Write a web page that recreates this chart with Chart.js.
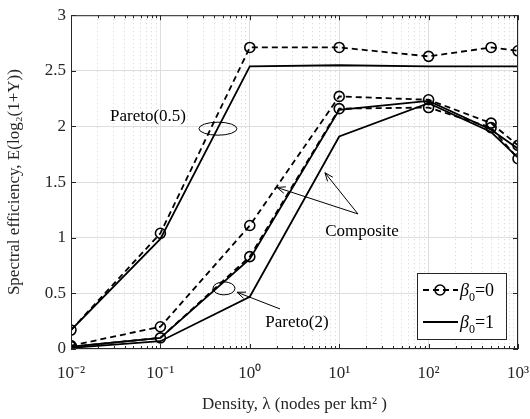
<!DOCTYPE html>
<html><head><meta charset="utf-8">
<script src="https://cdn.jsdelivr.net/npm/chart.js@4/dist/chart.umd.min.js"></script>
<style>html,body{margin:0;padding:0;background:#fff}#wrap{width:530px;height:419px;position:relative}</style>
</head><body><div id="wrap"><canvas id="c"></canvas></div>
<script>
// ---- data ----
const densities    = [0.01, 0.1, 1, 10, 100, 500, 1000];
const pareto05_b0  = [0.17, 1.04, 2.71, 2.71, 2.63, 2.71, 2.68];
const pareto05_b1  = [0.17, 0.99, 2.54, 2.55, 2.54, 2.54, 2.54];
const composite_b0 = [0.03, 0.20, 1.11, 2.27, 2.24, 2.03, 1.83];
const composite_b1 = [0.01, 0.07, 0.47, 1.91, 2.21, 1.95, 1.72];
const pareto2_b0   = [0.02, 0.10, 0.83, 2.16, 2.17, 1.99, 1.71];
const pareto2_b1   = [0.02, 0.10, 0.81, 2.15, 2.23, 1.97, 1.80];
const xTickValues  = [0.01, 0.1, 1, 10, 100, 1000];
const xTickLabels  = ['10⁻²', '10⁻¹', '10⁰', '10¹', '10²', '10³'];
const yTickValues  = [0, 0.5, 1, 1.5, 2, 2.5, 3];
const yTickLabels  = ['0', '0.5', '1', '1.5', '2', '2.5', '3'];
const legendLabels = ['0', '1'];   // beta_0 values
const annotations = [
  {type:'text', text:'Pareto(0.5)', x:0.0726, y:2.085},
  {type:'ellipse', x:0.44, y:1.98, rx:19, ry:6.5},
  {type:'text', text:'Composite', x:18.0, y:1.06},
  {type:'arrow', x0:16.2, y0:1.214, x1:2.01, y1:1.452},
  {type:'arrow', x0:16.2, y0:1.214, x1:6.93, y1:1.584},
  {type:'text', text:'Pareto(2)', x:3.37, y:0.24},
  {type:'ellipse', x:0.514, y:0.545, rx:11, ry:6.5},
  {type:'arrow', x0:2.18, y0:0.36, x1:0.72, y1:0.51}
];

const FONT = "'Liberation Serif', 'Times New Roman', serif";
const pts = arr => arr.map((v, i) => ({x: densities[i], y: v}));
function ds(label, arr, dashed) {
  return {
    label, data: pts(arr),
    borderColor: '#000', borderWidth: 1.8,
    borderDash: dashed ? [6, 4] : [],
    pointRadius: dashed ? 5 : 0,
    pointHoverRadius: dashed ? 5 : 0,
    pointBorderWidth: 1.6,
    pointBorderColor: '#000',
    pointBackgroundColor: 'rgba(0,0,0,0)',
    tension: 0, fill: false
  };
}

const isMajor = v => Math.abs(Math.log10(v) - Math.round(Math.log10(v))) < 1e-6;

const decor = {
  id: 'decor',
  afterDraw(chart) {
    const {ctx, chartArea: a, scales: {x, y}} = chart;
    ctx.save();
    // frame
    ctx.strokeStyle = '#262626'; ctx.lineWidth = 1; ctx.setLineDash([]);
    ctx.strokeRect(a.left + 0.5, a.top + 0.5, a.right - a.left - 1, a.bottom - a.top - 1);
    // inward ticks
    ctx.beginPath();
    x.ticks.forEach(t => {
      const p = Math.round(x.getPixelForValue(t.value)) + 0.5;
      const len = isMajor(t.value) ? 5 : 3;
      ctx.moveTo(p, a.bottom); ctx.lineTo(p, a.bottom - len);
      ctx.moveTo(p, a.top); ctx.lineTo(p, a.top + len);
    });
    y.ticks.forEach(t => {
      const p = Math.round(y.getPixelForValue(t.value)) + 0.5;
      ctx.moveTo(a.left, p); ctx.lineTo(a.left + 5, p);
      ctx.moveTo(a.right, p); ctx.lineTo(a.right - 5, p);
    });
    ctx.stroke();

    // annotations
    ctx.strokeStyle = '#000'; ctx.fillStyle = '#000'; ctx.lineWidth = 1;
    annotations.forEach(an => {
      if (an.type === 'text') {
        ctx.font = '17px ' + FONT; ctx.textAlign = 'center'; ctx.textBaseline = 'middle';
        ctx.fillText(an.text, x.getPixelForValue(an.x), y.getPixelForValue(an.y));
      } else if (an.type === 'ellipse') {
        ctx.beginPath();
        ctx.ellipse(x.getPixelForValue(an.x), y.getPixelForValue(an.y), an.rx, an.ry, 0, 0, Math.PI * 2);
        ctx.stroke();
      } else if (an.type === 'arrow') {
        const X0 = x.getPixelForValue(an.x0), Y0 = y.getPixelForValue(an.y0);
        const X1 = x.getPixelForValue(an.x1), Y1 = y.getPixelForValue(an.y1);
        ctx.beginPath(); ctx.moveTo(X0, Y0); ctx.lineTo(X1, Y1); ctx.stroke();
        const ang = Math.atan2(Y1 - Y0, X1 - X0), h = 9, w = 0.38;
        ctx.beginPath();
        ctx.moveTo(X1 - h * Math.cos(ang - w), Y1 - h * Math.sin(ang - w));
        ctx.lineTo(X1, Y1);
        ctx.lineTo(X1 - h * Math.cos(ang + w), Y1 - h * Math.sin(ang + w));
        ctx.stroke();
      }
    });

    // legend box (bottom right inside plot)
    const bw = 89, bh = 66;
    const bx = a.right - 12 - bw, by = a.bottom - 10 - bh;
    ctx.fillStyle = '#fff'; ctx.fillRect(bx, by, bw, bh);
    ctx.strokeStyle = '#262626'; ctx.lineWidth = 1; ctx.setLineDash([]);
    ctx.strokeRect(bx + 0.5, by + 0.5, bw, bh);
    legendLabels.forEach((lab, i) => {
      const ly = by + 17 + i * 32;
      ctx.strokeStyle = '#000'; ctx.lineWidth = 1.8;
      ctx.setLineDash(i === 0 ? [6, 4] : []);
      ctx.beginPath(); ctx.moveTo(bx + 6, ly); ctx.lineTo(bx + 41, ly); ctx.stroke();
      ctx.setLineDash([]);
      if (i === 0) {
        ctx.lineWidth = 1.6;
        ctx.beginPath(); ctx.arc(bx + 23, ly, 5, 0, Math.PI * 2); ctx.stroke();
      }
      ctx.fillStyle = '#000'; ctx.textAlign = 'left'; ctx.textBaseline = 'alphabetic';
      let tx = bx + 43;
      ctx.font = 'italic 18px ' + FONT;
      ctx.fillText('β', tx, ly + 6); tx += ctx.measureText('β').width;
      ctx.font = '12px ' + FONT;
      ctx.fillText('0', tx, ly + 11); tx += ctx.measureText('0').width;
      ctx.font = '18px ' + FONT;
      ctx.fillText('=' + lab, tx, ly + 6);
    });
    ctx.restore();
  }
};

new Chart(document.getElementById('c'), {
  type: 'line',
  data: {
    datasets: [
      ds('Pareto(0.5), β0=0', pareto05_b0, true),
      ds('Pareto(0.5), β0=1', pareto05_b1, false),
      ds('Composite, β0=0', composite_b0, true),
      ds('Composite, β0=1', composite_b1, false),
      ds('Pareto(2), β0=0', pareto2_b0, true),
      ds('Pareto(2), β0=1', pareto2_b1, false)
    ]
  },
  options: {
    responsive: true, maintainAspectRatio: false, animation: false,
    layout: {padding: {left: 4, right: 4, top: 8, bottom: 4}},
    plugins: {legend: {display: false}, tooltip: {enabled: false}},
    scales: {
      x: {
        type: 'logarithmic', min: 0.01, max: 1000,
        afterBuildTicks: s => {
          const t = [];
          for (let e = -2; e < 3; e++) for (let m = 1; m < 10; m++) t.push({value: m * Math.pow(10, e)});
          t.push({value: 1000});
          s.ticks = t;
        },
        afterFit: s => { s.height = 66; s.paddingRight = 12; },
        ticks: {
          autoSkip: false, maxRotation: 0, padding: 14, color: '#262626',
          font: {family: FONT, size: 17},
          callback: (v) => { const i = xTickValues.findIndex(q => Math.abs(q - v) / q < 1e-6); return i >= 0 ? xTickLabels[i] : ''; }
        },
        grid: {
          drawTicks: false,
          color: c => (c.tick && isMajor(c.tick.value)) ? '#dedede' : '#d4d4d4',
          lineWidth: 1
        },
        border: {display: false, dash: c => (c.tick && isMajor(c.tick.value)) ? [] : [1, 3]},
        title: {display: true, text: 'Density, λ (nodes per km² )', color: '#262626',
                font: {family: FONT, size: 17}, padding: {top: 4, bottom: 0}}
      },
      y: {
        min: 0, max: 3,
        afterFit: s => { s.width = 67; },
        afterBuildTicks: s => { s.ticks = yTickValues.map(v => ({value: v})); },
        ticks: {
          padding: 5, color: '#262626', font: {family: FONT, size: 17},
          callback: v => { const i = yTickValues.findIndex(q => Math.abs(q - v) < 1e-9); return i >= 0 ? yTickLabels[i] : ''; }
        },
        grid: {drawTicks: false, color: '#dedede'},
        border: {display: false},
        title: {display: true, text: 'Spectral efficiency, E(log₂(1+Y))', color: '#262626',
                font: {family: FONT, size: 17}, padding: {top: 0, bottom: 4}}
      }
    }
  },
  plugins: [decor]
});
</script></body></html>
